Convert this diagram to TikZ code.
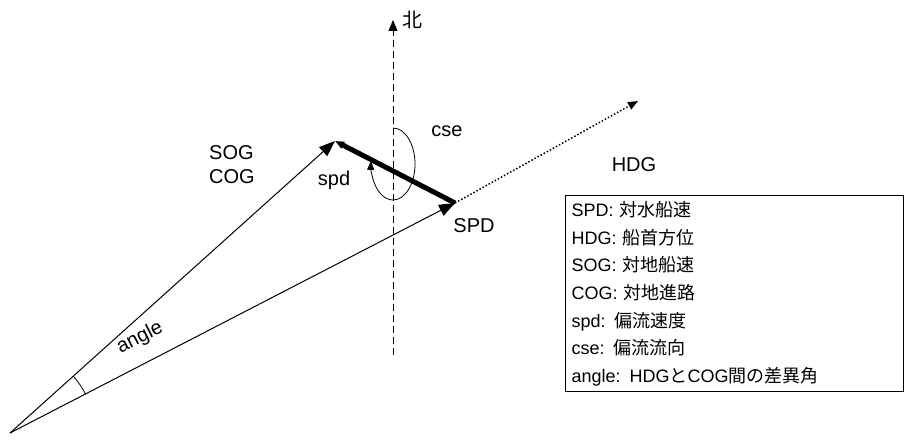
\documentclass[tikz,border=0pt]{standalone}
\usepackage{fontspec}
\setmainfont{Liberation Sans}
\newfontfamily\jp{Noto Sans CJK JP}
\usetikzlibrary{arrows.meta,calc}

\begin{document}
\begin{tikzpicture}[x=1pt,y=-1pt,font=\fontsize{20}{24}\selectfont,
  vec/.style={-{Triangle[length=16pt,width=12pt]},line width=1pt},
  lab/.style={inner sep=1pt}]
\useasboundingbox (0,0) rectangle (912,443);
\coordinate (o) at (10,433);
\coordinate (sog) at (335,141);
\coordinate (spd) at (455,203);
\coordinate (hdg) at (638,101);
\coordinate (ns) at (393,355);
\coordinate (nn) at (393,20);
% north
\draw[dash pattern=on 7pt off 4pt,-{Triangle[length=11pt,width=9pt]}] (ns) -- (nn);
\node[lab,anchor=west] (north) at (401,20) {\jp 北};
% vectors
\draw[vec] (o) -- (sog);
\draw[vec] (o) -- (spd);
\draw[vec,line width=5pt,-{Triangle[length=9pt,width=7pt]}] (spd) -- (sog);
\draw[dotted,line width=1.5pt,-{Triangle[length=10pt,width=8pt]}] (spd) -- (hdg);
% cse arc
\draw[-{Triangle[length=9pt,width=7pt]},line width=0.8pt]
  (393,128) arc[start angle=-90,end angle=185,x radius=22,y radius=36];
% angle arc
\draw[line width=0.8pt] ($(o)+(-27:85)$) arc[start angle=-27,end angle=-42,radius=85];
% labels
\node[lab,anchor=west,align=left] (soglab) at (208,165) {SOG\\COG};
\node[lab] (spdlab) at (334,180) {spd};
\node[lab] (cselab) at (447,131) {cse};
\node[lab] (SPDlab) at (474,226) {SPD};
\node[lab] (hdglab) at (634,165) {HDG};
\node[lab,rotate=27] (anglab) at (140,338) {angle};
% legend
\node[draw,line width=1pt,anchor=north west,align=left,inner sep=6pt,
  text width=326pt,font=\fontsize{18}{27.6}\selectfont] (legend) at (565,195)
  {SPD: {\jp 対水船速}\\HDG: {\jp 船首方位}\\SOG: {\jp 対地船速}\\COG: {\jp 対地進路}\\
   spd: {\jp 偏流速度}\\cse: {\jp 偏流流向}\\angle: HDG{\jp と}COG{\jp 間の差異角}};
\end{tikzpicture}
\end{document}
